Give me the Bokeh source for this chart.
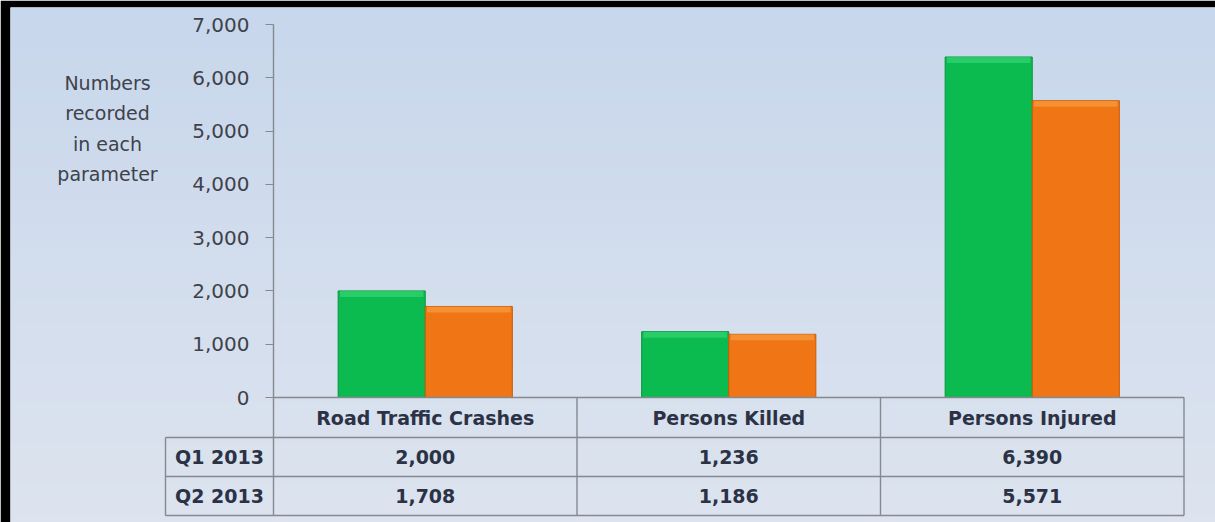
import numpy as np
from bokeh.plotting import figure
from bokeh.models import Range1d, LinearAxis, FixedTicker, NumeralTickFormatter, ColumnDataSource
from bokeh.core.properties import value
from bokeh.transform import dodge
from bokeh.embed import file_html
from bokeh.resources import INLINE

# ---------------- data ----------------
categories = ["Road Traffic Crashes", "Persons Killed", "Persons Injured"]
series_names = ["Q1 2013", "Q2 2013"]
q1_2013 = [2000, 1236, 6390]
q2_2013 = [1708, 1186, 5571]
y_ticks = [0, 1000, 2000, 3000, 4000, 5000, 6000, 7000]
y_title_lines = ["Numbers", "recorded", "in each", "parameter"]

# ---------------- layout (page pixels) ----------------
W, H = 1215, 522
FRAME_L, FRAME_T = 10, 7     # black border on the left and top
PX_X0 = 273        # value axis / left edge of first category column
PX_CAT = 303.5     # width of a category column
PX_Y0 = 397        # pixel row of value 0
PX_YMAX = 24       # pixel row of top tick
YMAX = y_ticks[-1]
KY = (PX_Y0 - PX_YMAX) / YMAX
PX_ROWLAB_L = 165  # left edge of the row-label column
ROW_EDGES_PX = [397, 437, 476, 515]
TITLE_X_PX = 107
TITLE_Y_PX = [82, 112, 143, 173]

def xd(px):
    return (px - PX_X0) / PX_CAT

def yd(py):
    return (PX_Y0 - py) / KY

FONT = "DejaVu Sans"
TXT = "#2c3246"
AX_TXT = "#3e424b"
GRID = "#858990"
GREEN, GREEN_D, GREEN_L = "#0bbb50", "#08953f", "#3ad879"
ORANGE, ORANGE_D, ORANGE_L = "#f07514", "#c85c08", "#f8a247"

x_range = Range1d(xd(FRAME_L), xd(W))
y_range = Range1d(yd(H), yd(FRAME_T))

p = figure(width=W, height=H, x_range=x_range, y_range=y_range,
           output_backend="svg", toolbar_location=None,
           x_axis_location=None, y_axis_location=None,
           min_border_left=FRAME_L, min_border_top=FRAME_T,
           min_border_right=0, min_border_bottom=0,
           outline_line_color=None,
           background_fill_color="#d4deec", border_fill_color="#000000")
p.grid.visible = False

# background gradient (top bluer, bottom paler)
rows = 64
img = np.empty((rows, 1), dtype=np.uint32)
view = img.view(dtype=np.uint8).reshape((rows, 1, 4))
top_c = np.array([200, 215, 236])
bot_c = np.array([221, 228, 239])
for r in range(rows):
    t = r / (rows - 1)  # row 0 = bottom
    c = bot_c * (1 - t) + top_c * t
    view[r, 0, :3] = c.astype(np.uint8)
    view[r, 0, 3] = 255
p.image_rgba(image=[img], x=x_range.start, y=y_range.start,
             dw=x_range.end - x_range.start, dh=y_range.end - y_range.start)

# ---------------- bars ----------------
cat_x = [i + 0.5 for i in range(len(categories))]
bevel = 6 / KY
src = ColumnDataSource(dict(
    x=cat_x, q1=q1_2013, q2=q2_2013,
    q1b=[v - bevel for v in q1_2013], q2b=[v - bevel for v in q2_2013],
))
BW = 0.287
OFF = 0.1435
p.vbar(x=dodge("x", -OFF, range=p.x_range), top="q1", bottom=0, width=BW, source=src,
       fill_color=GREEN, line_color=GREEN_D, line_width=1)
p.vbar(x=dodge("x", OFF, range=p.x_range), top="q2", bottom=0, width=BW, source=src,
       fill_color=ORANGE, line_color=ORANGE_D, line_width=1)
p.vbar(x=dodge("x", -OFF, range=p.x_range), top="q1", bottom="q1b", width=BW - 0.012, source=src,
       fill_color=GREEN_L, line_color=None, fill_alpha=0.6)
p.vbar(x=dodge("x", OFF, range=p.x_range), top="q2", bottom="q2b", width=BW - 0.012, source=src,
       fill_color=ORANGE_L, line_color=None, fill_alpha=0.6)

# ---------------- value axis ----------------
yax = LinearAxis(fixed_location=0,
                 ticker=FixedTicker(ticks=y_ticks),
                 formatter=NumeralTickFormatter(format="0,0"))
yax.axis_line_color = None
yax.major_tick_in = 0
yax.major_tick_out = 8
yax.major_tick_line_color = GRID
yax.minor_tick_line_color = None
yax.major_label_standoff = 16
yax.major_label_text_font = FONT
yax.major_label_text_font_size = "20px"
yax.major_label_text_color = AX_TXT
p.add_layout(yax, "left")

# axis title (4 lines)
p.text(x=[xd(TITLE_X_PX)] * len(y_title_lines), y=[yd(v) for v in TITLE_Y_PX],
       text=y_title_lines, text_align="center", text_baseline="middle",
       text_font=value(FONT), text_font_size="19px", text_color=AX_TXT)

# ---------------- data table ----------------
tb = yd(ROW_EDGES_PX[-1])
ncat = len(categories)
seg_x0, seg_y0, seg_x1, seg_y1 = [0], [tb], [0], [YMAX]        # value axis line
seg_x0.append(0); seg_y0.append(0); seg_x1.append(ncat); seg_y1.append(0)
for py in ROW_EDGES_PX[1:]:
    seg_x0.append(xd(PX_ROWLAB_L)); seg_y0.append(yd(py))
    seg_x1.append(ncat); seg_y1.append(yd(py))
seg_x0.append(xd(PX_ROWLAB_L)); seg_y0.append(yd(ROW_EDGES_PX[1]))
seg_x1.append(xd(PX_ROWLAB_L)); seg_y1.append(tb)
for i in range(1, ncat + 1):
    seg_x0.append(i); seg_y0.append(0); seg_x1.append(i); seg_y1.append(tb)
p.segment(x0=seg_x0, y0=seg_y0, x1=seg_x1, y1=seg_y1, line_color=GRID, line_width=1.4)

row_mid = [yd((ROW_EDGES_PX[k] + ROW_EDGES_PX[k + 1]) / 2) for k in range(3)]
TBL = dict(text_align="center", text_baseline="middle", text_font=value(FONT),
           text_font_size="19px", text_font_style="bold", text_color=TXT)
p.text(x=cat_x, y=[row_mid[0]] * ncat, text=categories, **TBL)
for k, vals in enumerate([q1_2013, q2_2013]):
    p.text(x=cat_x, y=[row_mid[k + 1]] * len(vals), text=[f"{v:,}" for v in vals], **TBL)
p.text(x=[xd((PX_ROWLAB_L + PX_X0) / 2)] * 2, y=row_mid[1:], text=series_names, **TBL)

open("out.html", "w").write(file_html(p, INLINE))
